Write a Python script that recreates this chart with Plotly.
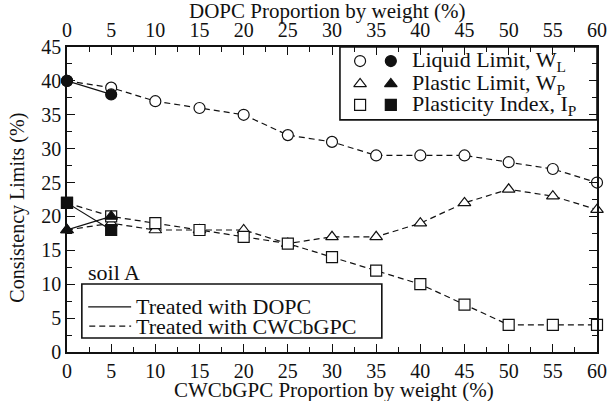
import plotly.graph_objects as go

# Proportions by weight (%)
cw_prop = [0, 5, 10, 15, 20, 25, 30, 35, 40, 45, 50, 55, 60]
dopc_prop = [0, 5]

# Consistency limits (%) for soil treated with CWCbGPC
cw_ll = [40, 39, 37, 36, 35, 32, 31, 29, 29, 29, 28, 27, 25]
cw_pl = [18, 19, 18, 18, 18, 16, 17, 17, 19, 22, 24, 23, 21]
cw_pi = [22, 20, 19, 18, 17, 16, 14, 12, 10, 7, 4, 4, 4]

# Consistency limits (%) for soil treated with DOPC
dopc_ll = [40, 38]
dopc_pl = [18, 20]
dopc_pi = [22, 18]

FONT = "Liberation Serif, Times New Roman, serif"
BLACK = "#111111"
DASH = "6px,4px"
MSIZE = 11
TXT = 22

fig = go.Figure()


def add_series(x, y, symbol, filled, dash, xaxis):
    fig.add_trace(go.Scatter(
        x=x, y=y, mode="lines+markers", xaxis=xaxis, yaxis="y",
        line=dict(color=BLACK, width=1.2, dash=dash),
        marker=dict(symbol=symbol, size=MSIZE, color=BLACK if filled else "white",
                    line=dict(color=BLACK, width=1.2)),
        showlegend=False, cliponaxis=False))


add_series(cw_prop, cw_ll, "circle", False, DASH, "x")
add_series(cw_prop, cw_pl, "triangle-up", False, DASH, "x")
add_series(cw_prop, cw_pi, "square", False, DASH, "x")
add_series(dopc_prop, dopc_ll, "circle", True, "solid", "x2")
add_series(dopc_prop, dopc_pl, "triangle-up", True, "solid", "x2")
add_series(dopc_prop, dopc_pi, "square", True, "solid", "x2")

# Legend keys drawn on a hidden unit-range axis pair
key_rows = [0.954, 0.879, 0.810]
key_symbols = ["circle", "triangle-up", "square"]
for yy, sym in zip(key_rows, key_symbols):
    for xx, fill in ((0.553, "white"), (0.611, BLACK)):
        fig.add_trace(go.Scatter(x=[xx], y=[yy], mode="markers", xaxis="x3", yaxis="y3",
                                 marker=dict(symbol=sym, size=MSIZE, color=fill,
                                             line=dict(color=BLACK, width=1.2)),
                                 showlegend=False, hoverinfo="skip"))

key_labels = ["Liquid Limit, W<sub>L</sub>", "Plastic Limit, W<sub>P</sub>",
              "Plasticity Index, I<sub>P</sub>"]
annotations = []
for yy, txt in zip(key_rows, key_labels):
    annotations.append(dict(x=0.647, y=yy, xref="paper", yref="paper", text=txt,
                            showarrow=False, xanchor="left", yanchor="middle",
                            font=dict(family=FONT, size=TXT, color=BLACK)))

annotations += [
    dict(x=0.036, y=0.262, xref="paper", yref="paper", text="soil A", showarrow=False,
         xanchor="left", yanchor="middle", font=dict(family=FONT, size=TXT, color=BLACK)),
    dict(x=0.126, y=0.150, xref="paper", yref="paper", text="Treated with DOPC",
         showarrow=False, xanchor="left", yanchor="middle",
         font=dict(family=FONT, size=TXT, color=BLACK)),
    dict(x=0.126, y=0.085, xref="paper", yref="paper", text="Treated with CWCbGPC",
         showarrow=False, xanchor="left", yanchor="middle",
         font=dict(family=FONT, size=TXT, color=BLACK)),
    # axis titles
    dict(x=-0.095, y=0.472, xref="paper", yref="paper", text="Consistency Limits (%)",
         textangle=-90, showarrow=False, xanchor="center", yanchor="middle",
         font=dict(family=FONT, size=20, color=BLACK)),
    dict(x=0.504, y=-0.125, xref="paper", yref="paper", text="CWCbGPC Proportion by weight (%)",
         showarrow=False, xanchor="center", yanchor="middle",
         font=dict(family=FONT, size=21, color=BLACK)),
    dict(x=0.491, y=1.118, xref="paper", yref="paper", text="DOPC Proportion by weight (%)",
         showarrow=False, xanchor="center", yanchor="middle",
         font=dict(family=FONT, size=21, color=BLACK)),
]

shapes = [
    dict(type="rect", xref="paper", yref="paper", x0=0.515, x1=1.0, y0=0.761, y1=1.0,
         line=dict(color=BLACK, width=1.6), fillcolor="rgba(0,0,0,0)"),
    dict(type="rect", xref="paper", yref="paper", x0=0.028, x1=0.594, y0=0.046, y1=0.223,
         line=dict(color=BLACK, width=1.6), fillcolor="rgba(0,0,0,0)"),
    dict(type="line", xref="paper", yref="paper", x0=0.040, x1=0.121, y0=0.148, y1=0.148,
         line=dict(color=BLACK, width=1.2)),
    dict(type="line", xref="paper", yref="paper", x0=0.042, x1=0.121, y0=0.085, y1=0.085,
         line=dict(color=BLACK, width=1.2, dash=DASH)),
]

tickfont = dict(family=FONT, size=20, color=BLACK)
minor = dict(ticks="inside", dtick=2.5, ticklen=5, tickwidth=1.2, tickcolor=BLACK)

fig.update_layout(
    width=611, height=401,
    margin=dict(l=67, r=14, t=47, b=49, autoexpand=False),
    paper_bgcolor="white", plot_bgcolor="white",
    font=dict(family=FONT, color=BLACK),
    xaxis=dict(range=[0, 60], tickvals=list(range(0, 61, 5)), ticks="inside",
               ticklen=8, tickwidth=1.2, tickcolor=BLACK, minor=minor, automargin=False,
               showline=True, linecolor=BLACK, linewidth=1.6, showgrid=False, zeroline=False,
               tickfont=tickfont),
    xaxis2=dict(range=[0, 60], tickvals=list(range(0, 61, 5)), overlaying="x", side="top",
                anchor="y", ticks="inside", ticklen=8, tickwidth=1.2, tickcolor=BLACK,
                minor=minor, automargin=False,
                showline=True, linecolor=BLACK, linewidth=1.6, showgrid=False, zeroline=False,
                tickfont=tickfont),
    yaxis=dict(range=[0, 45], tickvals=list(range(0, 46, 5)), ticks="inside",
               ticklen=8, tickwidth=1.2, tickcolor=BLACK, mirror="ticks", minor=minor,
               automargin=False,
               showline=True, linecolor=BLACK, linewidth=1.6, showgrid=False, zeroline=False,
               tickfont=tickfont),
    xaxis3=dict(range=[0, 1], overlaying="x", anchor="y3", visible=False),
    yaxis3=dict(range=[0, 1], overlaying="y", anchor="x3", visible=False),
    annotations=annotations,
    shapes=shapes,
)

fig.write_html("out.html")
